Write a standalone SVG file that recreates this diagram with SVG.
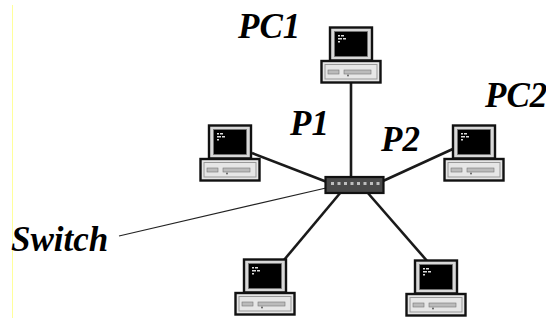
<svg xmlns="http://www.w3.org/2000/svg" xmlns:xlink="http://www.w3.org/1999/xlink" width="546" height="321" viewBox="0 0 546 321">
  <style>
    .lbl { font-family: "Liberation Serif", "Times New Roman", serif; font-style: italic; font-weight: bold; font-size: 35px; fill: #000; }
    .link { stroke: #1a1a1a; stroke-width: 2.6; fill: none; }
    .ptr { stroke: #222; stroke-width: 1.2; fill: none; }
  </style>
  <defs>
    <!-- desktop computer: monitor over a flat base, origin at top-centre of the monitor -->
    <g id="pc">
      <rect x="-21" y="0.5" width="42" height="33" fill="#d8d8d8" stroke="#111" stroke-width="2.4"/>
      <rect x="-16.5" y="4.5" width="33" height="25" fill="#000" stroke="#777" stroke-width="0.8"/>
      <rect x="-13" y="8" width="2" height="1.5" fill="#ddd"/>
      <rect x="-10" y="8" width="3" height="1.5" fill="#ddd"/>
      <rect x="-13" y="11" width="4" height="1.5" fill="#ddd"/>
      <rect x="-8" y="11" width="3" height="1.5" fill="#ddd"/>
      <rect x="-13" y="14" width="2" height="1.5" fill="#ddd"/>
      <rect x="-29.5" y="34" width="59" height="21.5" fill="#e6e6e6" stroke="#111" stroke-width="2.4"/>
      <rect x="-26" y="37.5" width="52" height="14.5" fill="none" stroke="#999" stroke-width="1"/>
      <rect x="-23" y="43" width="11" height="4" fill="#bbb" stroke="#777" stroke-width="0.6"/>
      <rect x="-7" y="43" width="27" height="4" fill="#bbb" stroke="#777" stroke-width="0.6"/>
      <circle cx="-3" cy="48.5" r="0.9" fill="#555"/>
    </g>
  </defs>

  <!-- margin rule -->
  <line x1="12.5" y1="5" x2="12.5" y2="318" stroke="#ffff9a" stroke-width="1"/>

  <!-- cabling -->
  <g id="connectors">
    <line class="link" x1="351" y1="83" x2="351" y2="177"/>
    <line class="link" x1="252" y1="153" x2="327" y2="182"/>
    <line class="link" x1="455" y1="148" x2="383" y2="181"/>
    <line class="link" x1="341" y1="192" x2="284" y2="260"/>
    <line class="link" x1="367" y1="192" x2="428" y2="262"/>
    <line class="ptr" x1="119" y1="236" x2="326" y2="188"/>
  </g>

  <g id="switch">
    <rect x="325.5" y="177" width="58" height="16" fill="#4a4a4a" stroke="#111" stroke-width="2.2"/>
    <g fill="#bdbdbd">
      <rect x="331" y="182" width="3" height="3"/>
      <rect x="337.5" y="182" width="3" height="3"/>
      <rect x="344" y="182" width="3" height="3"/>
      <rect x="350.5" y="182" width="3" height="3"/>
      <rect x="357" y="182" width="3" height="3"/>
      <rect x="363.5" y="182" width="3" height="3"/>
      <rect x="370" y="182" width="3" height="3"/>
      <rect x="376.5" y="182" width="3" height="3"/>
    </g>
  </g>

  <g id="pc1"><use xlink:href="#pc" x="351" y="27"/></g>
  <g id="pc-left"><use xlink:href="#pc" x="230" y="125"/></g>
  <g id="pc2"><use xlink:href="#pc" x="474" y="125"/></g>
  <g id="pc-bottom-left"><use xlink:href="#pc" x="265" y="259"/></g>
  <g id="pc-bottom-right"><use xlink:href="#pc" x="436" y="260"/></g>

  <g id="labels">
    <text class="lbl" x="238" y="38">PC1</text>
    <text class="lbl" x="290" y="135">P1</text>
    <text class="lbl" x="381" y="151">P2</text>
    <text class="lbl" x="485" y="107">PC2</text>
    <text class="lbl" x="11" y="251">Switch</text>
  </g>
</svg>
